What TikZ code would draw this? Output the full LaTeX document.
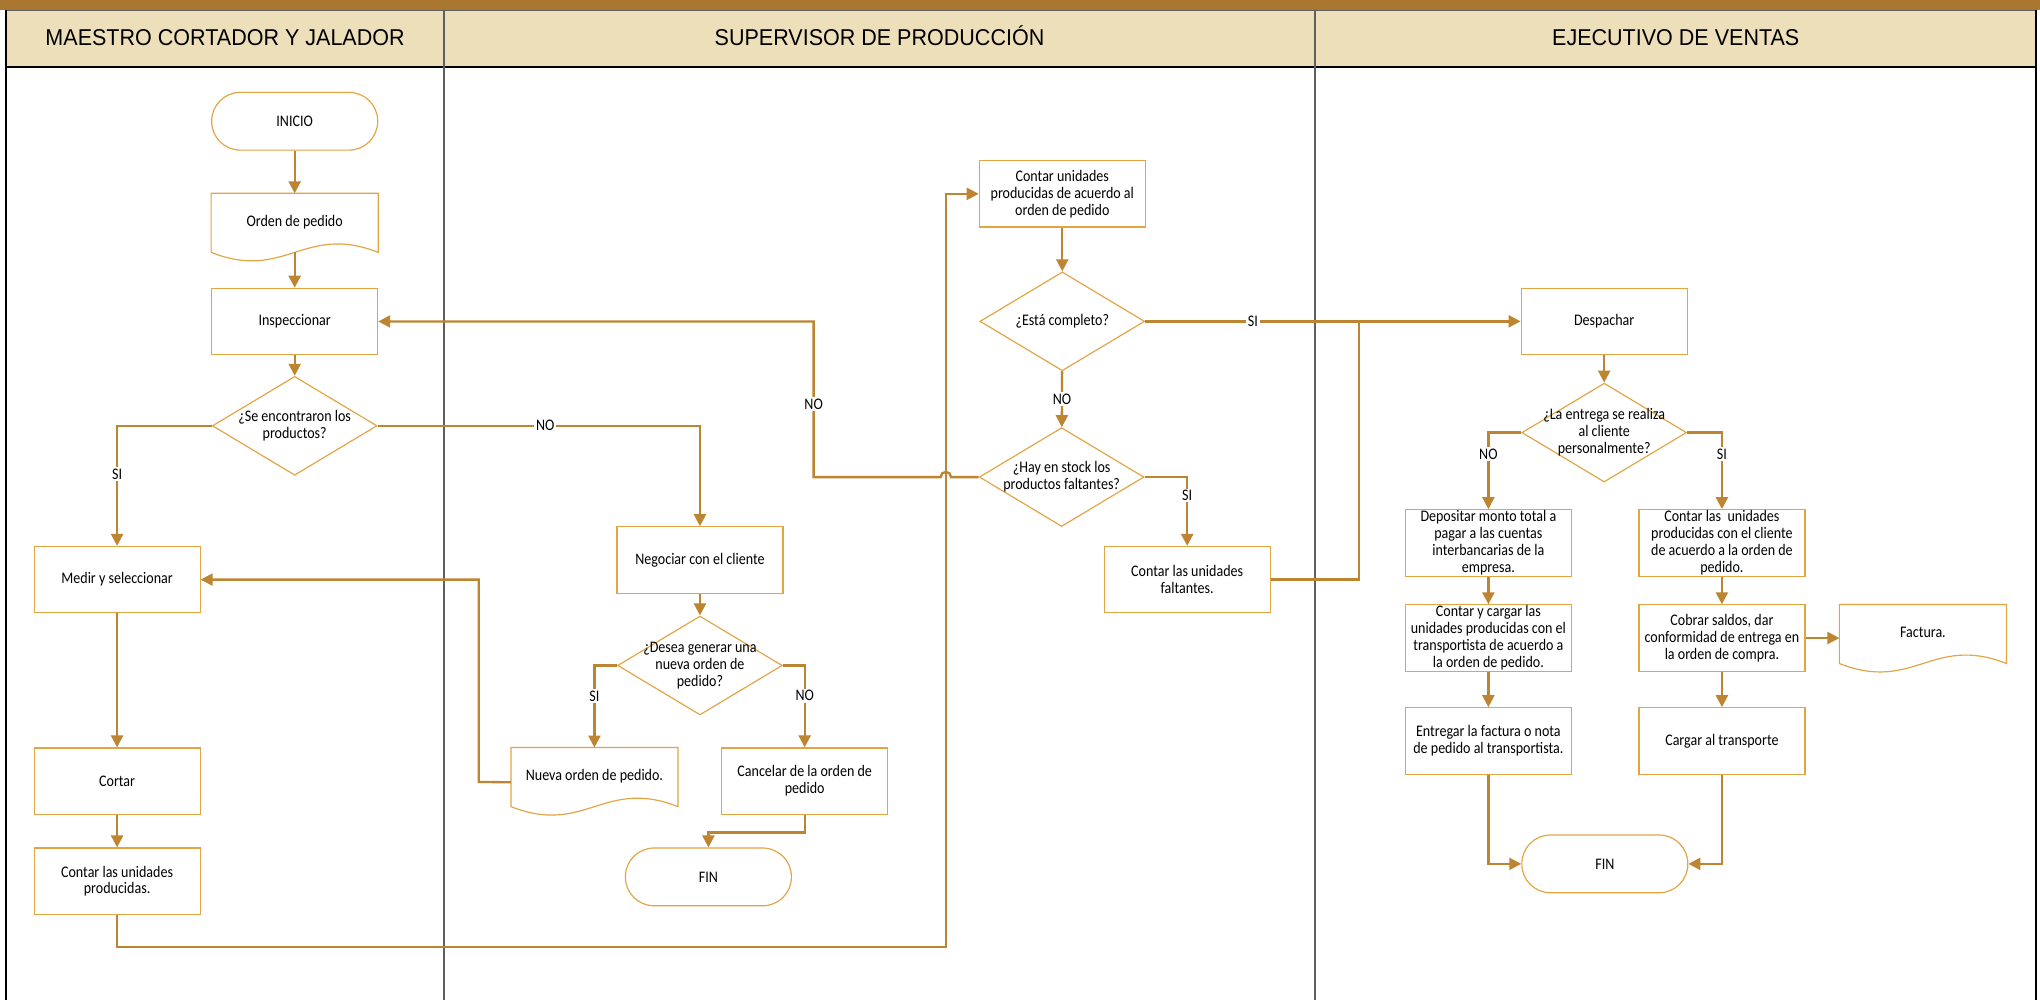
\documentclass[tikz,border=0pt]{standalone}
\usepackage{fontspec}
\setmainfont{Carlito}
\newfontfamily\hdrfont[FakeStretch=0.94]{Liberation Sans}
\newfontfamily\nfont[FakeStretch=0.87]{Carlito}
\usetikzlibrary{arrows.meta,shapes.geometric,calc}
\definecolor{conn}{HTML}{BD8431}
\definecolor{nline}{HTML}{E3A444}
\definecolor{barbrown}{HTML}{A9772F}
\definecolor{hdrtan}{HTML}{EDDFBA}
\definecolor{divgray}{HTML}{5F5F5F}
\begin{document}
\begin{tikzpicture}[x=0.5pt,y=-0.5pt,
  nf/.style={font=\nfont\fontsize{6.2pt}{6.5pt}\selectfont},
  box/.style={rectangle, draw=nline, line width=0.45pt, minimum width=63.8pt, minimum height=25.5pt, inner xsep=0.5pt, inner ysep=0pt, align=center, nf},
  term/.style={box, rounded corners=11pt, minimum height=22.2pt},
  docn/.style={rectangle, minimum width=63.8pt, minimum height=22.3pt, inner sep=0pt, align=center, nf},
  docline/.style={draw=nline, line width=0.45pt},
  dec/.style={diamond, draw=nline, line width=0.45pt, minimum width=63.3pt, minimum height=38pt, inner sep=0pt},
  dtxt/.style={align=center, nf},
  flow/.style={draw=conn, line width=0.9pt, -{Triangle[length=4.6pt,width=4.6pt]}},
  plain/.style={draw=conn, line width=0.9pt},
  lbl/.style={fill=white, inner sep=0.6pt, nf},
  hdr/.style={font=\hdrfont\fontsize{8.8pt}{10pt}\selectfont, anchor=base}
]
\useasboundingbox (0,0) rectangle (1568,769);
\fill[white] (0,0) rectangle (1568,769);
% header
\fill[barbrown] (0,0) rectangle (1568,8);
\fill[hdrtan] (4.6,8) rectangle (1565,51.5);
\draw[divgray, line width=0.6pt] (4.6,8) -- (1565,8);
\draw[black, line width=0.6pt] (4.6,51.5) -- (1565,51.5);
\draw[black, line width=0.7pt] (4.6,8) -- (4.6,769);
\draw[black, line width=0.7pt] (1565,8) -- (1565,769);
\draw[divgray, line width=0.8pt] (341.5,8) -- (341.5,769);
\draw[divgray, line width=0.8pt] (1010.8,8) -- (1010.8,769);
\node[hdr] (h1) at (173,35.1) {MAESTRO CORTADOR Y JALADOR};
\node[hdr] (h2) at (676,35.1) {SUPERVISOR DE PRODUCCIÓN};
\node[hdr] (h3) at (1288,35.1) {EJECUTIVO DE VENTAS};

% lane 1
\node[term] (inicio) at (226.5,93.2) {INICIO};
\node[docn] (orden) at (226.5,171.3) {\raisebox{1.5pt}{Orden de pedido}};
\draw[docline] (orden.north west) -- (orden.south west) .. controls +(57,22.5) and +(-57,-22.5) .. (orden.south east) -- (orden.north east) -- cycle;
\node[box] (insp) at (226.5,247.1) {Inspeccionar};
\node[dec, label={[dtxt]center:{¿Se encontraron los\\productos?}}] (d1) at (226.5,327.3) {};
\node[box] (medir) at (90,445.5) {Medir y seleccionar};
\node[box] (cortar) at (90,600.4) {Cortar};
\node[box] (contar1) at (90,677.3) {Contar las unidades\\producidas.};

% lane 2
\node[box] (neg) at (538,430.4) {Negociar con el cliente};
\node[dec, label={[dtxt]center:{¿Desea generar una\\nueva orden de\\pedido?}}] (d4) at (538,511.5) {};
\node[docn] (nueva) at (456.9,597.3) {\raisebox{1.5pt}{Nueva orden de pedido.}};
\draw[docline] (nueva.north west) -- (nueva.south west) .. controls +(57,22.5) and +(-57,-22.5) .. (nueva.south east) -- (nueva.north east) -- cycle;
\node[box] (cancel) at (618.5,600.4) {Cancelar de la orden de\\pedido};
\node[term] (fin1) at (544.5,674) {FIN};
\node[box] (contar2) at (816.5,149) {Contar unidades\\producidas de acuerdo al\\orden de pedido};
\node[dec, label={[dtxt]center:{¿Está completo?}}] (d2) at (816.5,247) {};
\node[dec, label={[dtxt]center:{¿Hay en stock los\\productos faltantes?}}] (d3) at (816,366.7) {};
\node[box] (falt) at (912.5,445.5) {Contar las unidades\\faltantes.};

% lane 3
\node[box] (desp) at (1233,247) {Despachar};
\node[dec, label={[dtxt]center:{¿La entrega se realiza\\al cliente\\personalmente?}}] (d5) at (1233,332.5) {};
\node[box] (depo) at (1144,417.3) {Depositar monto total a\\pagar a las cuentas\\interbancarias de la\\empresa.};
\node[box] (cuni) at (1323.5,417.3) {Contar las\ \ unidades\\producidas con el cliente\\de acuerdo a la orden de\\pedido.};
\node[box] (cyc) at (1144,490.4) {Contar y cargar las\\unidades producidas con el\\transportista de acuerdo a\\la orden de pedido.};
\node[box] (cobr) at (1323.5,490.4) {Cobrar saldos, dar\\conformidad de entrega en\\la orden de compra.};
\node[docn] (fact) at (1478,487.3) {\raisebox{1.5pt}{Factura.}};
\draw[docline] (fact.north west) -- (fact.south west) .. controls +(57,22.5) and +(-57,-22.5) .. (fact.south east) -- (fact.north east) -- cycle;
\node[box] (entr) at (1144,569.5) {Entregar la factura o nota\\de pedido al transportista.};
\node[box] (carg) at (1323.5,569.5) {Cargar al transporte};
\node[term] (fin2) at (1233.5,664) {FIN};

% connectors lane 1
\draw[flow] (inicio) -- (orden);
\draw[flow] (orden) -- (insp);
\draw[flow] (insp) -- (d1);
\draw[flow] (d1.west) -| node[lbl,pos=0.7]{SI} (medir.north);
\draw[flow] (d1.east) -| node[lbl,pos=0.26]{NO} (neg.north);
\draw[flow] (medir) -- (cortar);
\draw[flow] (cortar) -- (contar1);
\coordinate (j1) at (727,727.7);
\draw[flow] (contar1.south) |- (j1) |- (contar2.west);

% connectors lane 2
\draw[flow] (neg) -- (d4);
\draw[flow] (d4.west) -| node[lbl,pos=0.685]{SI} (nueva.north);
\draw[flow] (d4.east) -| node[lbl,pos=0.685]{NO} (cancel.north);
\coordinate (j2) at (368,601);
\draw[flow] ([yshift=-2pt]nueva.west) -- (j2) |- (medir.east);
\draw[flow] (cancel.south) -- ++(0,13.5) -| (fin1.north);
\draw[flow] (contar2) -- (d2);
\draw[flow] (d2) -- node[lbl]{NO} (d3);
\draw[flow] (d2.east) -- node[lbl,pos=0.287]{SI} (desp.west);
\coordinate (j3) at (625.4,366.7);
\draw[flow] (d3.west) -- ($(j1|-d3.west)+(4,0)$) arc[start angle=0,end angle=180,radius=2pt] -- (j3) |- node[lbl,pos=0.235]{NO} (insp.east);
\draw[flow] (d3.east) -| node[lbl,pos=0.635]{SI} (falt.north);
\coordinate (j4) at (1044.6,247);
\draw[plain] (falt.east) -| (j4);

% connectors lane 3
\draw[flow] (desp) -- (d5);
\draw[flow] (d5.west) -| node[lbl,pos=0.64]{NO} (depo.north);
\draw[flow] (d5.east) -| node[lbl,pos=0.64]{SI} (cuni.north);
\draw[flow] (depo) -- (cyc);
\draw[flow] (cyc) -- (entr);
\draw[flow] (entr.south) |- (fin2.west);
\draw[flow] (cuni) -- (cobr);
\draw[flow] (cobr) -- (carg);
\draw[flow] (cobr.east) -- (cobr.east -| fact.west);
\draw[flow] (carg.south) |- (fin2.east);
\end{tikzpicture}
\end{document}
